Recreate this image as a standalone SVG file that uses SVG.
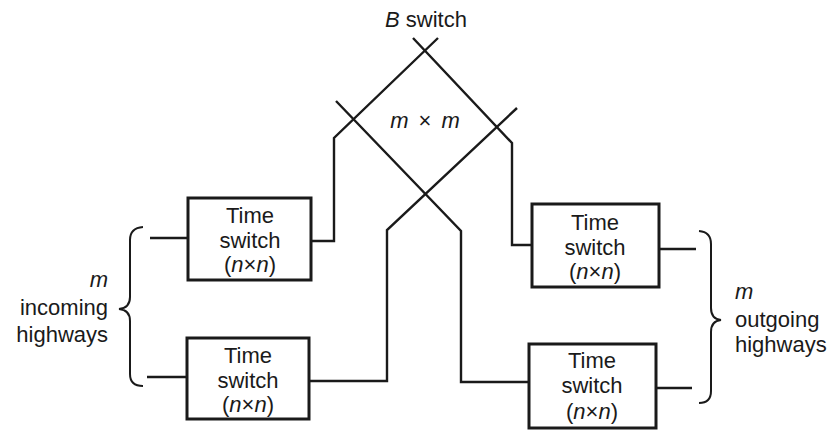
<svg xmlns="http://www.w3.org/2000/svg" width="828" height="430" viewBox="0 0 828 430">
<style>
text{font-family:"Liberation Sans",Arial,sans-serif;font-size:22px;fill:#1a1a1a}
.c{text-anchor:middle}
.e{text-anchor:end}
.i{font-style:italic}
.box{fill:#fff;stroke:#1a1a1a;stroke-width:3}
.ln{fill:none;stroke:#1a1a1a;stroke-width:2.4;stroke-linejoin:miter}
.br{fill:none;stroke:#1a1a1a;stroke-width:2}
</style>
<rect width="828" height="430" fill="#fff"/>
<g id="connectors">
<path class="ln" d="M150,238 L188,238"/>
<path class="ln" d="M147,377 L187,377"/>
<path class="ln" d="M438,38 L334,138 L334,241 L311,241"/>
<path class="ln" d="M413,38 L512,143 L512,245 L532,245"/>
<path class="ln" d="M336,101 L461,231 L461,382 L529,382"/>
<path class="ln" d="M517,108 L387,230 L387,381 L309,381"/>
<path class="ln" d="M659,249 L696,249"/>
<path class="ln" d="M656,388 L692,388"/>
</g>
<g id="bswitch">
<text class="c" x="426" y="27"><tspan class="i">B</tspan> switch</text>
<text class="c" x="425" y="128" word-spacing="4"><tspan class="i">m</tspan> × <tspan class="i">m</tspan></text>
</g>
<g id="ts1">
<rect class="box" x="188" y="198" width="123" height="82"/>
<text class="c" x="250" y="223">Time</text>
<text class="c" x="250" y="248">switch</text>
<text class="c" x="250" y="272">(<tspan class="i">n</tspan>×<tspan class="i">n</tspan>)</text>
</g>
<g id="ts2">
<rect class="box" x="187" y="338" width="122" height="81"/>
<text class="c" x="248" y="363">Time</text>
<text class="c" x="248" y="388">switch</text>
<text class="c" x="248" y="412">(<tspan class="i">n</tspan>×<tspan class="i">n</tspan>)</text>
</g>
<g id="ts3">
<rect class="box" x="532" y="204" width="127" height="83"/>
<text class="c" x="595" y="230">Time</text>
<text class="c" x="595" y="255">switch</text>
<text class="c" x="595" y="279">(<tspan class="i">n</tspan>×<tspan class="i">n</tspan>)</text>
</g>
<g id="ts4">
<rect class="box" x="529" y="344" width="127" height="84"/>
<text class="c" x="592" y="368">Time</text>
<text class="c" x="592" y="393">switch</text>
<text class="c" x="592" y="419">(<tspan class="i">n</tspan>×<tspan class="i">n</tspan>)</text>
</g>
<g id="incoming">
<path class="br" d="M143,227 Q130,228 130,240 L130,297 Q130,308 119,309 Q130,310 130,321 L130,374 Q130,386 143,386"/>
<text class="e i" x="108" y="287">m</text>
<text class="e" x="108" y="315">incoming</text>
<text class="e" x="108" y="342">highways</text>
</g>
<g id="outgoing">
<path class="br" d="M699,231 Q711,232 711,244 L711,308 Q711,319 721,320 Q711,321 711,332 L711,391 Q711,403 699,403"/>
<text class="i" x="735" y="299">m</text>
<text x="735" y="327">outgoing</text>
<text x="735" y="352">highways</text>
</g>
</svg>
